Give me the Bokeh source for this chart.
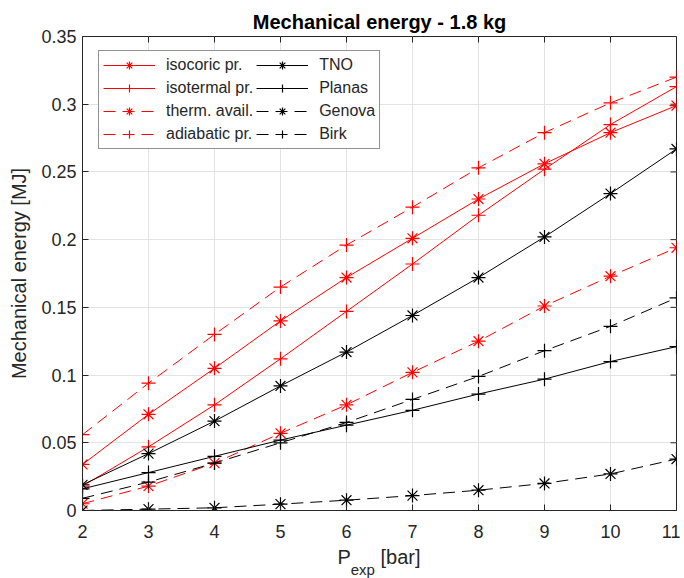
import math
from bokeh.plotting import figure
from bokeh.layouts import column
from bokeh.models import (Range1d, FixedTicker, CustomJSTickFormatter,
                          Legend, LegendItem, Div)
from bokeh.embed import file_html
from bokeh.resources import INLINE

# ---------------- data ----------------
p_exp = [2, 3, 4, 5, 6, 7, 8, 9, 10, 11]

isocoric = [0.034, 0.071, 0.105, 0.140, 0.172, 0.201, 0.230, 0.256, 0.279, 0.299]
isotermal = [0.018, 0.047, 0.078, 0.112, 0.147, 0.182, 0.218, 0.252, 0.285, 0.313]
therm_avail = [0.005, 0.018, 0.035, 0.057, 0.078, 0.102, 0.125, 0.151, 0.173, 0.194]
adiabatic = [0.056, 0.094, 0.130, 0.165, 0.196, 0.224, 0.253, 0.279, 0.301, 0.320]
tno = [0.019, 0.042, 0.066, 0.092, 0.117, 0.144, 0.172, 0.202, 0.234, 0.267]
planas = [0.016, 0.028, 0.040, 0.052, 0.063, 0.074, 0.086, 0.097, 0.110, 0.121]
genova = [0.000, 0.001, 0.002, 0.0047, 0.0076, 0.011, 0.015, 0.020, 0.027, 0.038]
birk = [0.009, 0.021, 0.035, 0.050, 0.065, 0.082, 0.099, 0.118, 0.136, 0.157]

series_labels = ["isocoric pr.", "isotermal pr.", "therm. avail.", "adiabatic pr.",
                 "TNO", "Planas", "Genova", "Birk"]

x_ticks = [2, 3, 4, 5, 6, 7, 8, 9, 10, 11]
y_ticks = [0, 0.05, 0.1, 0.15, 0.2, 0.25, 0.3, 0.35]

title_text = "Mechanical energy - 1.8 kg"
y_label = "Mechanical energy [MJ]"
x_label_main = "P"
x_label_sub = "exp"
x_label_unit = "[bar]"

# ---------------- styles ----------------
FONT = "Liberation Sans"
TXT = "#262626"
RED = "#ff0000"
BLK = "#000000"
DASH = "12 7"

styles = [
    (isocoric, RED, "solid", "asterisk"),
    (isotermal, RED, "solid", "cross"),
    (therm_avail, RED, DASH, "asterisk"),
    (adiabatic, RED, DASH, "cross"),
    (tno, BLK, "solid", "asterisk"),
    (planas, BLK, "solid", "cross"),
    (genova, BLK, DASH, "asterisk"),
    (birk, BLK, DASH, "cross"),
]

p = figure(width=680, height=547,
           x_range=Range1d(x_ticks[0], x_ticks[-1]), y_range=Range1d(y_ticks[0], y_ticks[-1]),
           output_backend="svg", toolbar_location=None,
           min_border_left=82, min_border_right=4, min_border_top=36, min_border_bottom=37)

p.title.text = title_text
p.title.align = "center"
p.title.text_font = FONT
p.title.text_font_size = "20px"
p.title.text_font_style = "bold"
p.title.text_color = "#000000"
p.title.standoff = 8

p.outline_line_color = TXT
p.outline_line_width = 1
p.background_fill_color = "white"
p.border_fill_color = "white"

fmt = CustomJSTickFormatter(code="return String(Math.round(tick*100)/100);")

for ax in p.xaxis:
    ax.ticker = FixedTicker(ticks=x_ticks)
    ax.major_label_standoff = 14
for ax in p.yaxis:
    ax.ticker = FixedTicker(ticks=y_ticks)
    ax.formatter = fmt
    ax.major_label_standoff = 6

for ax in list(p.xaxis) + list(p.yaxis):
    ax.axis_line_color = TXT
    ax.major_tick_line_color = TXT
    ax.major_tick_in = 6
    ax.major_tick_out = 0
    ax.minor_tick_line_color = None
    ax.major_label_text_font = FONT
    ax.major_label_text_font_size = "18px"
    ax.major_label_text_color = TXT

p.yaxis.axis_label = y_label
p.yaxis.axis_label_text_font = FONT
p.yaxis.axis_label_text_font_size = "20px"
p.yaxis.axis_label_text_font_style = "normal"
p.yaxis.axis_label_text_color = TXT
p.yaxis.axis_label_standoff = 8

p.grid.grid_line_color = "#e3e3e3"
p.grid.grid_line_width = 1
p.xgrid.ticker = FixedTicker(ticks=x_ticks)
p.ygrid.ticker = FixedTicker(ticks=y_ticks)

# inward ticks on top and right edges of the box
p.ray(x=x_ticks, y=[y_ticks[-1]] * len(x_ticks), length=6, length_units="screen",
      angle=-math.pi / 2, line_color=TXT, line_width=1)
p.ray(x=[x_ticks[-1]] * len(y_ticks), y=y_ticks, length=6, length_units="screen",
      angle=math.pi, line_color=TXT, line_width=1)

items = []
for label, (vals, color, dash, marker) in zip(series_labels, styles):
    r1 = p.line(p_exp, vals, line_color=color, line_width=1, line_dash=dash)
    r2 = p.scatter(p_exp, vals, marker=marker, size=14, line_color=color, line_width=1.2,
                   fill_color=None)
    items.append(LegendItem(label=label, renderers=[r1, r2]))

legend = Legend(items=items, ncols=2, location=(16, 361),
                label_text_font=FONT, label_text_font_size="16px", label_text_color=TXT,
                glyph_width=52, glyph_height=20, label_standoff=11, spacing=3,
                padding=4, margin=0, border_line_color=TXT, border_line_width=1,
                background_fill_color="white", background_fill_alpha=1.0, label_height=20)
p.add_layout(legend, "center")

xlabel_html = (
    f'<div style="width:594px;margin-left:82px;text-align:center;'
    f'font-family:\'{FONT}\';font-size:20px;line-height:20px;color:{TXT};white-space:nowrap;">'
    f'{x_label_main}<span style="font-size:15px;position:relative;top:11px;">{x_label_sub}</span>'
    f' {x_label_unit}</div>'
)
xlabel = Div(text=xlabel_html, width=680, height=30, margin=(0, 0, 0, 0))

layout = column(p, xlabel, spacing=0)

open("out.html", "w").write(file_html(layout, INLINE))
